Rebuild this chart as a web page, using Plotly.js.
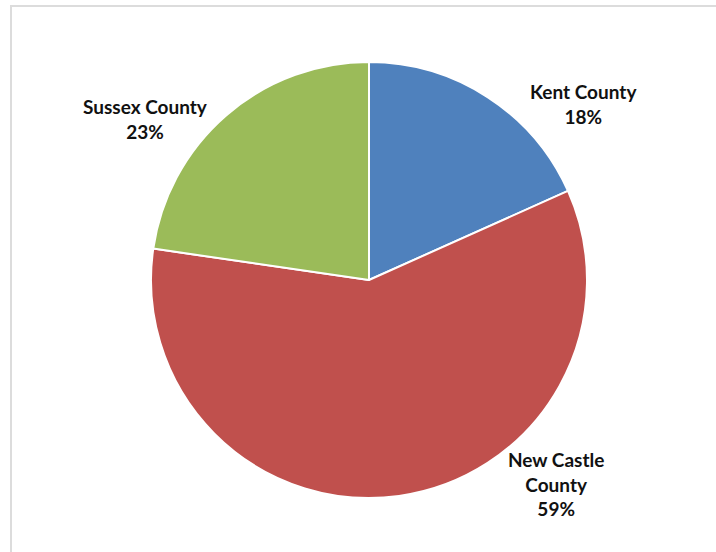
<!DOCTYPE html>
<html>
<head>
<meta charset="utf-8">
<script src="https://cdn.plot.ly/plotly-3.0.1.min.js"></script>
<style>html,body{margin:0;padding:0;background:#fff;}#chart{width:716px;height:552px;}</style>
</head>
<body>
<div id="chart"></div>
<script>
const categories = ["Kent County", "New Castle County", "Sussex County"];
const labelLines = ["Kent County", "New Castle<br>County", "Sussex County"];
const values = [18.3, 59.0, 22.7];
const colors = ["#4F81BD", "#C0504D", "#9BBB59"];

const W = 716, H = 552;
const mt = 62, mb = 54;
const plotH = H - mt - mb;
const px2x = p => p / W;
const py2y = p => (H - mb - p) / plotH;

const total = values.reduce((a, b) => a + b, 0);
const labelPos = [[583, 104], [556, 484], [145, 119]];
const annotations = categories.map((c, i) => ({
  text: labelLines[i] + "<br>" + Math.round(values[i] / total * 100) + "%",
  x: px2x(labelPos[i][0]), y: py2y(labelPos[i][1]),
  xref: "paper", yref: "paper", showarrow: false,
  xanchor: "center", yanchor: "middle", align: "center",
  font: {family: "Lato, 'Liberation Sans', sans-serif", size: 19, color: "#111", weight: "bold"}
}));

const trace = {
  type: "pie",
  labels: categories,
  values: values,
  sort: false,
  direction: "clockwise",
  rotation: 0,
  textinfo: "none",
  hoverinfo: "label+percent",
  marker: {colors: colors, line: {color: "#ffffff", width: 2}},
  domain: {x: [151 / W, 587 / W], y: [0, 1]},
  showlegend: false
};

const layout = {
  width: W, height: H,
  margin: {l: 0, r: 0, t: mt, b: mb},
  paper_bgcolor: "#ffffff",
  showlegend: false,
  annotations: annotations,
  shapes: [{
    type: "path", xref: "paper", yref: "paper",
    path: "M " + px2x(11) + " " + py2y(560) + " L " + px2x(11) + " " + py2y(6) + " L " + px2x(720) + " " + py2y(6),
    line: {color: "#dcdcdc", width: 2}
  }]
};

Plotly.newPlot("chart", [trace], layout, {displayModeBar: false, staticPlot: true});
</script>
</body>
</html>
